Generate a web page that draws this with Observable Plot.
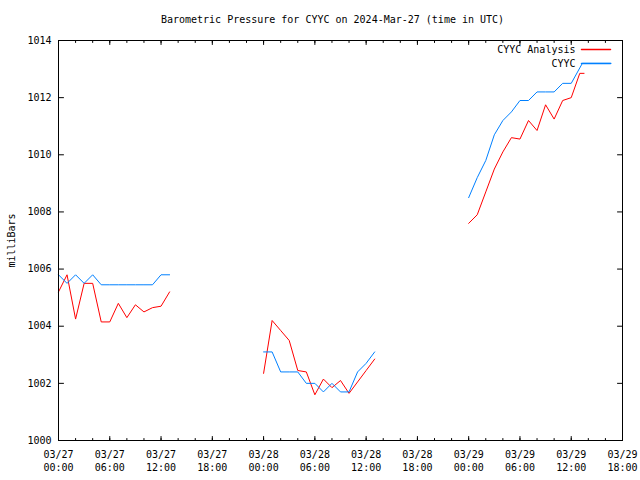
<!DOCTYPE html>
<html><head><meta charset="utf-8">
<script src="https://cdn.jsdelivr.net/npm/d3@7"></script>
<script src="https://cdn.jsdelivr.net/npm/@observablehq/plot@0.6"></script>
<style>body{margin:0;background:#fff} svg{display:block}</style>
</head><body><div id="chart"></div>
<script>
const title = "Barometric Pressure for CYYC on 2024-Mar-27 (time in UTC)";
const yLabel = "milliBars";
const seriesNames = ["CYYC Analysis", "CYYC"];
const seriesColors = ["#ff0000", "#0080ff"];
const startTime = "2024-03-27T00:00:00Z";
const xDomainHours = [0, 66];
const yDomain = [1000, 1014];
const yTicks = [1000, 1002, 1004, 1006, 1008, 1010, 1012, 1014];
const xMajorHours = [0, 6, 12, 18, 24, 30, 36, 42, 48, 54, 60, 66];
const xMinorHours = [0, 2, 4, 6, 8, 10, 12, 14, 16, 18, 20, 22, 24, 26, 28, 30, 32, 34, 36, 38, 40, 42, 44, 46, 48, 50, 52, 54, 56, 58, 60, 62, 64, 66];

// hours after start; null values mark gaps
const analysisHours = [0,1,2,3,4,5,6,7,8,9,10,11,12,13, 18, 24,25,26,27,28,29,30,31,32,33,34,35,36,37, 42, 48,49,50,51,52,53,54,55,56,57,58,59,60,61,61.5];
const analysisValues = [1005.2,1005.8,1004.25,1005.5,1005.5,1004.15,1004.15,1004.8,1004.3,1004.75,1004.5,1004.65,1004.7,1005.2, null,
  1002.35,1004.2,1003.85,1003.5,1002.45,1002.4,1001.6,1002.15,1001.85,1002.1,1001.65,1002.05,1002.45,1002.85, null,
  1007.6,1007.9,1008.7,1009.5,1010.1,1010.6,1010.55,1011.2,1010.85,1011.75,1011.25,1011.9,1012.0,1012.85,1012.85];
const obsHours = [0,1,2,3,4,5,6,7,8,9,10,11,12,13, 18, 24,25,26,27,28,29,30,31,32,33,34,35,36,37, 42, 48,49,50,51,52,53,54,55,56,57,58,59,60,61.3,64.65];
const obsValues = [1005.8,1005.5,1005.8,1005.5,1005.8,1005.45,1005.45,1005.45,1005.45,1005.45,1005.45,1005.45,1005.8,1005.8, null,
  1003.1,1003.1,1002.4,1002.4,1002.4,1002.0,1002.0,1001.7,1002.0,1001.7,1001.7,1002.4,1002.7,1003.1, null,
  1008.5,1009.2,1009.8,1010.7,1011.2,1011.5,1011.9,1011.9,1012.2,1012.2,1012.2,1012.5,1012.5,1013.2,1013.2];

const t0 = new Date(startTime).getTime();
const toDate = h => new Date(t0 + h * 3600e3);
const rows = [];
analysisHours.forEach((h, i) => rows.push({time: toDate(h), value: analysisValues[i], series: seriesNames[0]}));
obsHours.forEach((h, i) => rows.push({time: toDate(h), value: obsValues[i], series: seriesNames[1]}));

const tickShape = {draw(ctx, l) { ctx.moveTo(0, 0); ctx.lineTo(0, -l); }};
const fmt = d3.utcFormat("%m/%d\n%H:%M");
const xMajor = xMajorHours.map(toDate);
const xMinor = xMinorHours.map(toDate);
const tk = {stroke: "black", strokeWidth: 1, shape: tickShape, anchor: "start"};

const chart = Plot.plot({
  width: 640, height: 480,
  marginLeft: 58, marginRight: 18, marginTop: 40, marginBottom: 40,
  style: {fontFamily: "'DejaVu Sans Mono', monospace", fontSize: "10px", background: "#fff", color: "black"},
  x: {type: "utc", domain: xDomainHours.map(toDate)},
  y: {domain: yDomain},
  color: {domain: seriesNames, range: seriesColors},
  marks: [
    Plot.line(rows, {x: "time", y: "value", z: "series", stroke: "series", strokeWidth: 1}),
    Plot.frame({stroke: "black"}),
    Plot.vector(xMajor, {x: d => d, frameAnchor: "bottom", rotate: 0, length: 4, ...tk}),
    Plot.vector(xMinor, {x: d => d, frameAnchor: "bottom", rotate: 0, length: 2, ...tk}),
    Plot.vector(xMajor, {x: d => d, frameAnchor: "top", rotate: 180, length: 4, ...tk}),
    Plot.vector(xMinor, {x: d => d, frameAnchor: "top", rotate: 180, length: 2, ...tk}),
    Plot.vector(yTicks, {y: d => d, frameAnchor: "left", rotate: 90, length: 5, ...tk}),
    Plot.vector(yTicks, {y: d => d, frameAnchor: "right", rotate: 270, length: 5, ...tk}),
    Plot.axisX({ticks: xMajor, tickSize: 0, tickPadding: 9, tickFormat: fmt, lineHeight: 1.25, label: null, fontSize: 10}),
    Plot.axisY({ticks: yTicks, tickSize: 0, tickPadding: 7, tickFormat: d => String(d), label: null, fontSize: 10}),
    Plot.text([yLabel], {text: d => d, frameAnchor: "left", dx: -47, rotate: -90, textAnchor: "middle", lineAnchor: "middle", fontSize: 10}),
    Plot.text([title], {text: d => d, frameAnchor: "top", dx: -8, dy: -21, textAnchor: "middle", lineAnchor: "middle", fontSize: 10}),
    Plot.text([seriesNames[0]], {text: d => d, frameAnchor: "top-right", dx: -47, dy: 9, textAnchor: "end", lineAnchor: "middle", fontSize: 10}),
    Plot.text([seriesNames[1]], {text: d => d, frameAnchor: "top-right", dx: -47, dy: 23, textAnchor: "end", lineAnchor: "middle", fontSize: 10}),
    Plot.vector([seriesNames[0]], {frameAnchor: "top-right", dx: -12, dy: 9, rotate: 270, length: 29, shape: tickShape, anchor: "start", stroke: seriesColors[0]}),
    Plot.vector([seriesNames[1]], {frameAnchor: "top-right", dx: -12, dy: 23, rotate: 270, length: 29, shape: tickShape, anchor: "start", stroke: seriesColors[1]})
  ]
});
document.getElementById("chart").appendChild(chart);
</script>
</body></html>
